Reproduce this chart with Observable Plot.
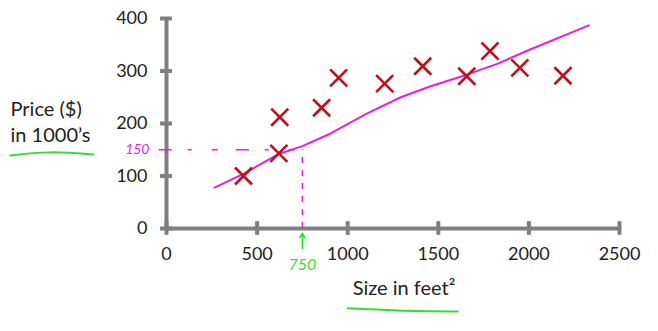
<!DOCTYPE html>
<html><head><meta charset="utf-8">
<script src="https://cdn.jsdelivr.net/npm/d3@7"></script>
<script src="https://cdn.jsdelivr.net/npm/@observablehq/plot@0.6"></script>
<style>html,body{margin:0;padding:0;background:#fff} svg{display:block}</style>
</head><body><div id="chart"></div>
<script>
// Data
const sizes  = [425, 620, 625, 856, 950, 1204, 1414, 1657, 1785, 1950, 2188];
const prices = [100, 143, 212, 230, 287, 276, 309, 290, 338, 306, 291];
const fitSizes  = [265, 430, 620, 750, 906, 1100, 1293, 1450, 1657, 1829, 2000, 2331];
const fitPrices = [78, 105, 142, 157, 181, 218, 250, 270, 293, 314, 340, 387];
const xTicks = [0, 500, 1000, 1500, 2000, 2500];
const yTicks = [0, 100, 200, 300, 400];
const querySize = 750;
const queryPrice = 150;
const yLabel = "Price ($)\nin 1000\u2019s";
const xLabel = "Size in feet\u00B2";
// hand-drawn underlines (data units)
const yUnderline = [[-862, 139], [-640, 145], [-403, 141]];
const xUnderline = [[1000, -152], [1276, -156], [1608, -158]];

const points = sizes.map((s, i) => ({size: s, price: prices[i]}));
const fit = fitSizes.map((s, i) => ({size: s, price: fitPrices[i]}));

const gray = "#7f7f7f";
const magenta = "#e61ee6";
const green = "#2ee02e";
const red = "#c0101c";

const chart = Plot.plot({
  width: 658, height: 331,
  marginLeft: 166, marginRight: 39, marginTop: 18, marginBottom: 103,
  style: {fontFamily: "Lato", background: "#fff", overflow: "visible"},
  x: {domain: [0, 2500], axis: null},
  y: {domain: [0, 400], axis: null},
  marks: [
    // axes lines
    Plot.ruleY([0], {x1: 0, x2: 2500, stroke: gray, strokeWidth: 4}),
    Plot.ruleX([0], {y1: 0, y2: 400, stroke: gray, strokeWidth: 4}),
    Plot.ruleX(xTicks, {x: d => d, y1: -13, y2: 13, stroke: gray, strokeWidth: 4}),
    Plot.ruleY(yTicks, {y: d => d, x1: -33, x2: 33, stroke: gray, strokeWidth: 4}),
    // tick labels
    Plot.axisX(xTicks, {tickSize: 0, tickPadding: 19, fontSize: 18, fill: "#222", label: null, tickFormat: d => String(d)}),
    Plot.axisY(yTicks, {tickSize: 0, tickPadding: 19, fontSize: 18, fill: "#222", label: null, tickFormat: d => String(d)}),
    // axis titles
    Plot.text([yLabel], {frameAnchor: "left", dx: -156, dy: -3, textAnchor: "start", fontSize: 20, lineHeight: 1.3, fill: "#222"}),
    Plot.text([xLabel], {frameAnchor: "bottom", dx: 11, dy: 66, fontSize: 20, fill: "#222"}),
    Plot.line(yUnderline, {curve: "natural", stroke: green, strokeWidth: 2}),
    Plot.line(xUnderline, {curve: "natural", stroke: green, strokeWidth: 2}),
    // dashed guide lines
    Plot.ruleY([queryPrice], {x1: -40, x2: querySize, stroke: magenta, strokeWidth: 1.6, strokeDasharray: "13,16,4,20,6,18"}),
    Plot.ruleX([querySize], {y1: 0, y2: queryPrice, stroke: magenta, strokeWidth: 1.5, strokeDasharray: "6,7"}),
    // hand annotations
    Plot.text([String(queryPrice)], {frameAnchor: "left", y: [queryPrice], dx: -17, textAnchor: "end", fontSize: 14, fill: magenta, fontStyle: "italic"}),
    Plot.text([String(querySize)], {frameAnchor: "bottom", x: [querySize], dy: 41, fontSize: 16, fill: green, fontStyle: "italic"}),
    Plot.arrow([querySize], {x1: d => d, x2: d => d, y1: -38, y2: -9, stroke: green, strokeWidth: 1.6, headLength: 12, bend: 0}),
    // fitted line
    Plot.line(fit, {x: "size", y: "price", curve: "linear", stroke: magenta, strokeWidth: 2}),
    // data points
    Plot.dot(points, {x: "size", y: "price", symbol: "times", r: 7.8, stroke: red, strokeWidth: 2.6})
  ]
});
document.getElementById("chart").appendChild(chart);
</script>
</body></html>
